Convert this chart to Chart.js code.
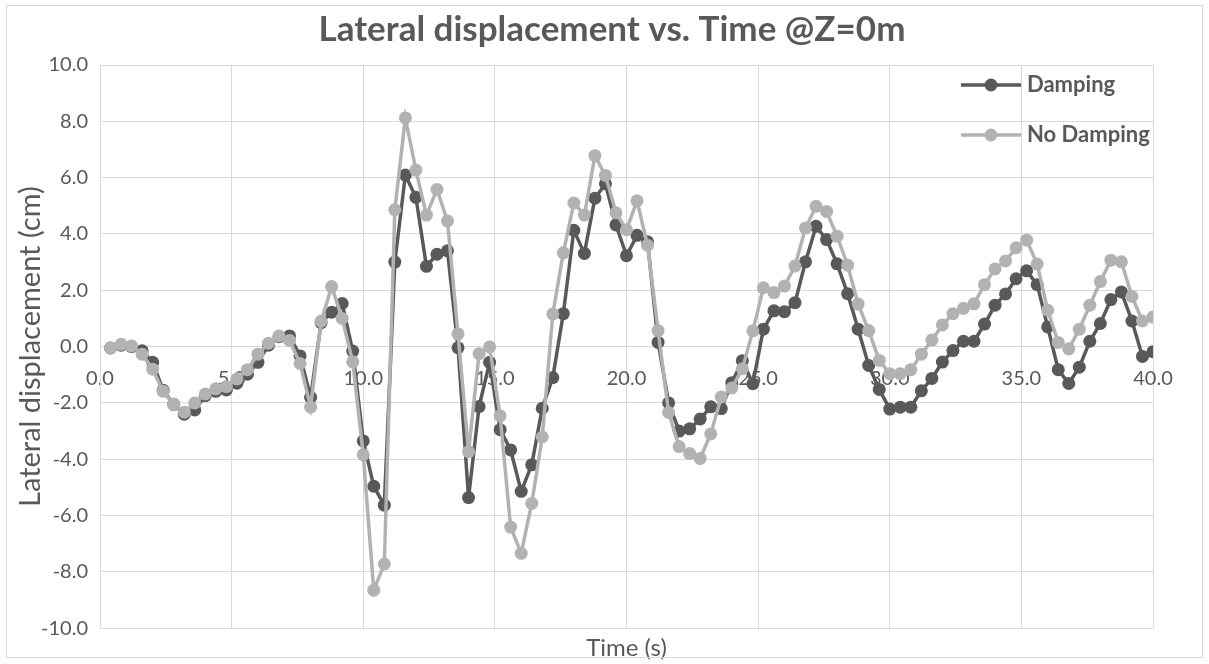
<!DOCTYPE html>
<html>
<head>
<meta charset="utf-8">
<title>Lateral displacement vs. Time</title>
<script src="https://cdn.jsdelivr.net/npm/chart.js@4.4.1/dist/chart.umd.min.js"></script>
<style>
  html, body { margin: 0; padding: 0; background: #ffffff; }
  #wrap { position: relative; width: 1209px; height: 664px; }
  canvas { display: block; }
</style>
</head>
<body>
<div id="wrap"><canvas id="chart" width="1209" height="664"></canvas></div>
<script>
// Sample times (s)
const times = [
  0.4, 0.8, 1.2, 1.6, 2.0, 2.4, 2.8, 3.2, 3.6, 4.0,
  4.4, 4.8, 5.2, 5.6, 6.0, 6.4, 6.8, 7.2, 7.6, 8.0,
  8.4, 8.8, 9.2, 9.6, 10.0, 10.4, 10.8, 11.2, 11.6, 12.0,
  12.4, 12.8, 13.2, 13.6, 14.0, 14.4, 14.8, 15.2, 15.6, 16.0,
  16.4, 16.8, 17.2, 17.6, 18.0, 18.4, 18.8, 19.2, 19.6, 20.0,
  20.4, 20.8, 21.2, 21.6, 22.0, 22.4, 22.8, 23.2, 23.6, 24.0,
  24.4, 24.8, 25.2, 25.6, 26.0, 26.4, 26.8, 27.2, 27.6, 28.0,
  28.4, 28.8, 29.2, 29.6, 30.0, 30.4, 30.8, 31.2, 31.6, 32.0,
  32.4, 32.8, 33.2, 33.6, 34.0, 34.4, 34.8, 35.2, 35.6, 36.0,
  36.4, 36.8, 37.2, 37.6, 38.0, 38.4, 38.8, 39.2, 39.6, 40.0
];

// Lateral displacement at Z=0m, with damping (cm)
const damping = [
  -0.05, 0.05, 0.00, -0.15, -0.56, -1.55, -2.05, -2.40, -2.25, -1.74,
  -1.59, -1.54, -1.30, -0.98, -0.56, 0.05, 0.35, 0.38, -0.33, -1.80,
  0.85, 1.22, 1.53, -0.16, -3.35, -4.96, -5.63, 3.00, 6.09, 5.30,
  2.85, 3.28, 3.40, -0.04, -5.36, -2.13, -0.56, -2.95, -3.67, -5.14,
  -4.20, -2.19, -1.10, 1.17, 4.13, 3.31, 5.27, 5.78, 4.32, 3.23,
  3.95, 3.72, 0.15, -2.00, -3.00, -2.92, -2.57, -2.14, -2.20, -1.28,
  -0.50, -1.32, 0.62, 1.27, 1.24, 1.56, 3.01, 4.27, 3.80, 2.94,
  1.88, 0.62, -0.67, -1.52, -2.22, -2.15, -2.15, -1.57, -1.13, -0.55,
  -0.14, 0.19, 0.19, 0.80, 1.47, 1.87, 2.41, 2.69, 2.20, 0.70,
  -0.82, -1.31, -0.73, 0.19, 0.82, 1.67, 1.94, 0.91, -0.35, -0.18
];

// Lateral displacement at Z=0m, without damping (cm)
const noDamping = [
  -0.05, 0.08, 0.02, -0.27, -0.80, -1.59, -2.05, -2.33, -2.00, -1.68,
  -1.50, -1.42, -1.15, -0.82, -0.27, 0.12, 0.38, 0.22, -0.60, -2.15,
  0.90, 2.13, 1.00, -0.54, -3.84, -8.65, -7.72, 4.86, 8.12, 6.27,
  4.67, 5.58, 4.46, 0.45, -3.73, -0.25, -0.01, -2.46, -6.41, -7.34,
  -5.57, -3.21, 1.16, 3.33, 5.10, 4.67, 6.78, 6.08, 4.75, 4.15,
  5.18, 3.60, 0.57, -2.34, -3.55, -3.80, -3.97, -3.10, -1.79, -1.47,
  -0.79, 0.56, 2.09, 1.92, 2.15, 2.86, 4.21, 4.98, 4.80, 3.92,
  2.89, 1.51, 0.57, -0.49, -0.96, -0.96, -0.82, -0.27, 0.23, 0.77,
  1.17, 1.36, 1.52, 2.20, 2.76, 3.04, 3.51, 3.78, 2.93, 1.29,
  0.15, -0.08, 0.62, 1.47, 2.31, 3.07, 3.01, 1.78, 0.91, 1.05
];

const seriesNames = ['Damping', 'No Damping'];
const seriesColors = ['#595959', '#b2b2b2'];

const FONT = "Lato, 'Open Sans', 'DejaVu Sans', sans-serif";
const TEXT = '#595959';
const GRID = '#d9d9d9';

function toPoints(ys) {
  return times.map((t, i) => ({ x: t, y: ys[i] }));
}

// Legend swatch: short line with a round marker in the middle
function legendSwatch(color) {
  const c = document.createElement('canvas');
  c.width = 60; c.height = 16;
  const g = c.getContext('2d');
  g.strokeStyle = color; g.lineWidth = 3.5;
  g.beginPath(); g.moveTo(0, 8); g.lineTo(60, 8); g.stroke();
  g.fillStyle = color;
  g.beginPath(); g.arc(30, 8, 6.5, 0, Math.PI * 2); g.fill();
  return c;
}

// Legend in the upper right corner of the plot area; title centred on the page
const boxPlacer = {
  id: 'boxPlacer',
  afterLayout(chart) {
    const lg = chart.legend;
    if (lg) {
      const x = 938, y = 46;
      lg.left = x; lg.right = x + 264;
      lg.top = y; lg.bottom = y + 220;
    }
    const tb = chart.titleBlock;
    if (tb) {
      tb.left = 24; tb.right = 1200;
    }
  }
};

// White page with a thin outer frame
const frame = {
  id: 'frame',
  beforeDraw(chart) {
    const ctx = chart.ctx;
    ctx.save();
    ctx.fillStyle = '#ffffff';
    ctx.fillRect(0, 0, chart.width, chart.height);
    ctx.restore();
  },
  afterDraw(chart) {
    const ctx = chart.ctx;
    ctx.save();
    ctx.strokeStyle = GRID;
    ctx.lineWidth = 1;
    ctx.strokeRect(6.5, 5.5, 1196, 652);
    ctx.restore();
  }
};

const ctx = document.getElementById('chart').getContext('2d');
new Chart(ctx, {
  type: 'line',
  data: {
    datasets: [
      {
        label: seriesNames[0],
        data: toPoints(damping),
        borderColor: seriesColors[0],
        backgroundColor: seriesColors[0],
        pointBackgroundColor: seriesColors[0],
        pointBorderColor: seriesColors[0],
        borderWidth: 3.5,
        pointRadius: 6.5,
        pointBorderWidth: 0,
        tension: 0,
        order: 1
      },
      {
        label: seriesNames[1],
        data: toPoints(noDamping),
        borderColor: seriesColors[1],
        backgroundColor: seriesColors[1],
        pointBackgroundColor: seriesColors[1],
        pointBorderColor: seriesColors[1],
        borderWidth: 3.5,
        pointRadius: 6.5,
        pointBorderWidth: 0,
        tension: 0,
        order: 0
      }
    ]
  },
  options: {
    responsive: false,
    animation: false,
    layout: { padding: { left: 4, right: 56, top: 8, bottom: 1 } },
    scales: {
      x: {
        type: 'linear',
        min: 0,
        max: 40,
        position: { y: 0 },
        afterFit(scale) { scale.height = 0; },
        ticks: {
          stepSize: 5,
          callback: (v) => Number(v).toFixed(1),
          font: { family: FONT, size: 20 },
          color: TEXT,
          padding: 20,
          maxRotation: 0
        },
        grid: { color: GRID, lineWidth: 1, drawTicks: false },
        border: { color: GRID, width: 1 }
      },
      y: {
        min: -10,
        max: 10,
        afterFit(scale) { scale.width = 96; },
        ticks: {
          stepSize: 2,
          callback: (v) => Number(v).toFixed(1),
          font: { family: FONT, size: 20 },
          color: TEXT,
          padding: 12
        },
        grid: { color: GRID, lineWidth: 1, drawTicks: false },
        border: { color: GRID, width: 1 },
        title: {
          display: true,
          text: 'Lateral displacement (cm)',
          font: { family: FONT, size: 29 },
          color: TEXT,
          padding: { top: 9, bottom: 0 }
        }
      }
    },
    plugins: {
      title: {
        display: true,
        text: 'Lateral displacement vs. Time @Z=0m',
        font: { family: FONT, size: 35, weight: 'bold' },
        color: TEXT,
        padding: { top: 1, bottom: 14 }
      },
      subtitle: {
        display: true,
        position: 'bottom',
        fullSize: false,
        text: 'Time (s)',
        font: { family: FONT, size: 24 },
        color: TEXT,
        padding: { top: 6, bottom: 0 }
      },
      legend: {
        position: 'chartArea',
        align: 'start',
        labels: {
          usePointStyle: true,
          pointStyleWidth: 50,
          padding: 28,
          font: { family: FONT, size: 22, weight: 'bold' },
          color: TEXT,
          sort: (a, b) => a.datasetIndex - b.datasetIndex,
          generateLabels(chart) {
            const items = Chart.defaults.plugins.legend.labels.generateLabels(chart);
            items.forEach((it) => {
              it.pointStyle = legendSwatch(seriesColors[it.datasetIndex]);
            });
            return items;
          }
        }
      },
      tooltip: { enabled: false }
    }
  },
  plugins: [boxPlacer, frame]
});
</script>
</body>
</html>
